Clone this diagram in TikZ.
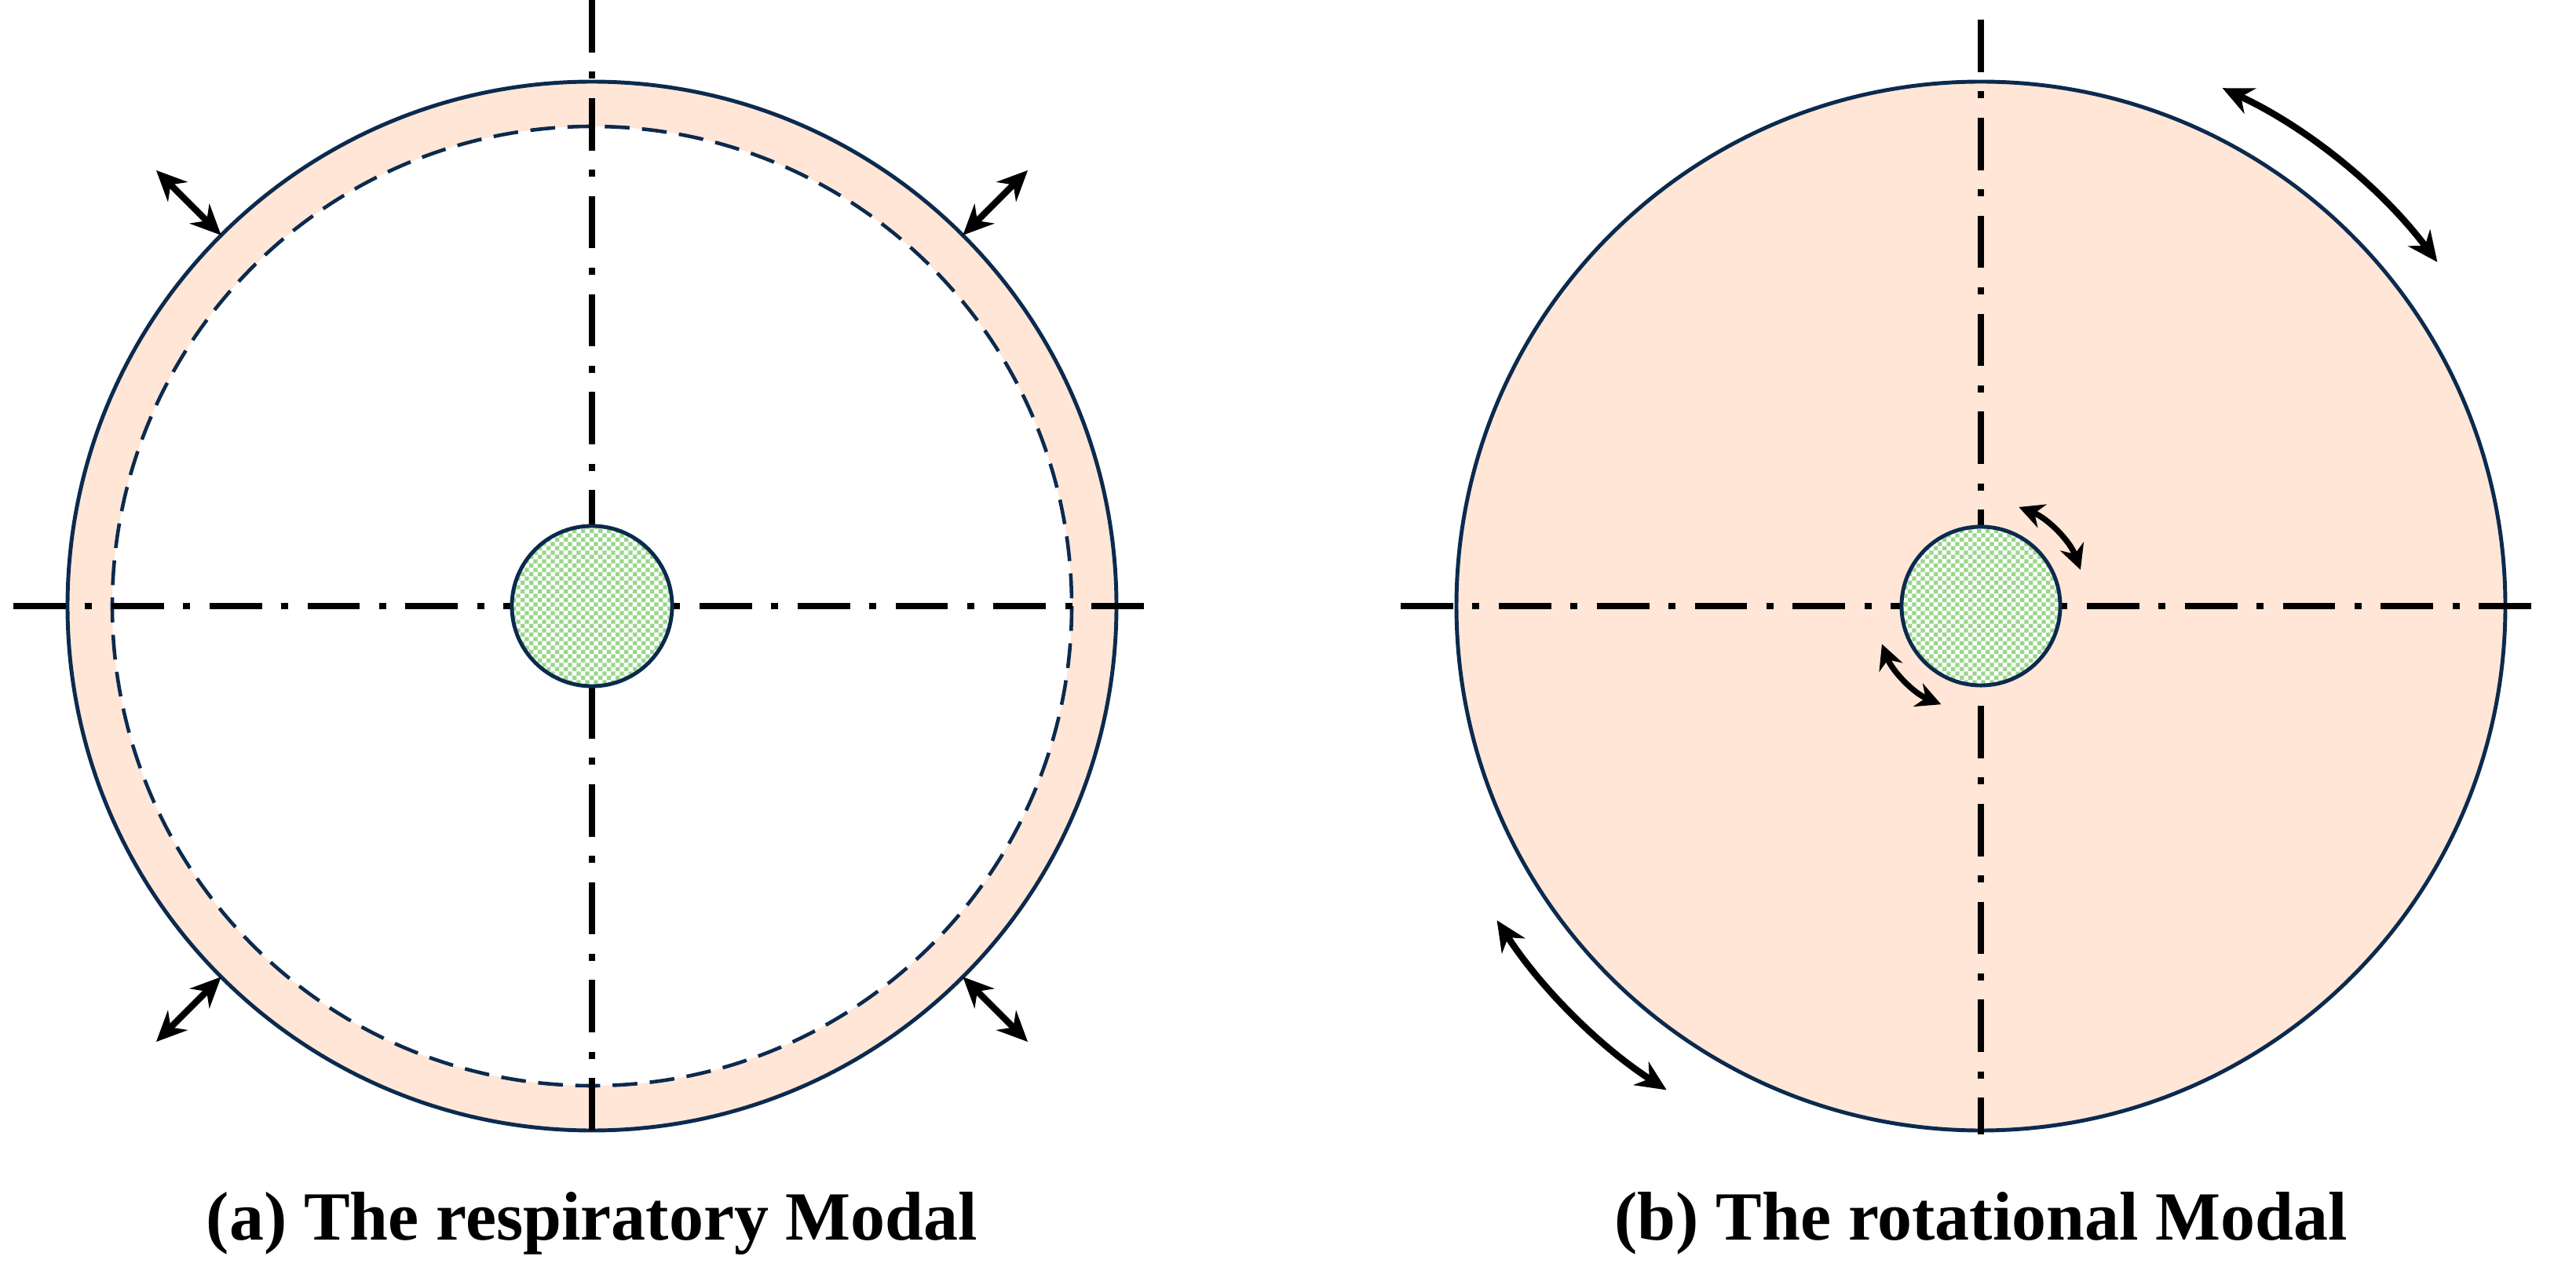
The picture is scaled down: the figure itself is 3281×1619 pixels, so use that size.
\documentclass[tikz,border=0pt]{standalone}
\usepackage{fontspec}
\setmainfont{Liberation Serif}
\usetikzlibrary{arrows.meta,patterns,calc}
\definecolor{navy}{HTML}{0B2A4E}
\definecolor{peach}{HTML}{FFE6D7}
\definecolor{chk}{HTML}{99D68A}
\pgfdeclarepatternformonly{mychecker}{\pgfqpoint{0pt}{0pt}}{\pgfqpoint{3.2pt}{3.2pt}}{\pgfqpoint{3.2pt}{3.2pt}}{%
  \pgfpathrectangle{\pgfqpoint{0pt}{0pt}}{\pgfqpoint{1.6pt}{1.6pt}}%
  \pgfpathrectangle{\pgfqpoint{1.6pt}{1.6pt}}{\pgfqpoint{1.6pt}{1.6pt}}%
  \pgfusepath{fill}}
\tikzset{
  axis/.style={line width=2.5pt,dash pattern=on 19pt off 7pt on 2.5pt off 7pt},
  big/.style={draw=navy,line width=1.4pt},
  core/.style={draw=navy,line width=1.4pt,preaction={fill=white},pattern=mychecker,pattern color=chk},
  dbl/.style={line width=2.4pt,{Stealth[length=11pt,width=10pt]}-{Stealth[length=11pt,width=10pt]}},
  sdbl/.style={line width=2.1pt,{Stealth[length=9pt,width=9pt]}-{Stealth[length=9pt,width=9pt]}},
  captxt/.style={font=\bfseries\fontsize{25}{30}\selectfont}
}
\begin{document}
\begin{tikzpicture}[x=0.01cm,y=-0.01cm]
\useasboundingbox (0,0) rectangle (3281,1619);
% (a)
\coordinate (ca) at (754,772);
\fill[peach] (ca) circle[radius=668];
\fill[white] (ca) circle[radius=611];
\draw[big] (ca) circle[radius=668];
\draw[navy,line width=1.3pt,dash pattern=on 9pt off 4.5pt] (ca) circle[radius=611];
\coordinate (aL) at (17,772); \coordinate (aR) at (1480,772);
\coordinate (aT) at (754,0); \coordinate (aB) at (754,1445);
\draw[axis] (aL) -- (aR);
\draw[axis] (aT) -- (aB);
\node[core,circle,minimum size=2.04cm,inner sep=0pt] (coreA) at (ca) {};
\foreach \a in {45,135,225,315}{
  \draw[dbl] ($(ca)+(\a:668)$) -- ($(ca)+(\a:785)$);
}
\node[captxt] (capA) at (754,1558) {(a) The respiratory Modal};
% (b)
\coordinate (cb) at (2523,772);
\draw[big,fill=peach] (cb) circle[radius=668];
\coordinate (bL) at (1784,772); \coordinate (bR) at (3241,772);
\coordinate (bT) at (2523,25); \coordinate (bB) at (2523,1445);
\draw[axis] (bL) -- (bR);
\draw[axis] (bT) -- (bB);
\node[core,circle,minimum size=2.02cm,inner sep=0pt] (coreB) at (cb) {};
\draw[dbl] (cb) ++(-65:728) arc[start angle=-65,end angle=-37,radius=728];
\draw[dbl] (cb) ++(147:735) arc[start angle=147,end angle=123,radius=735];
\draw[sdbl] (cb) ++(-69:135) arc[start angle=-69,end angle=-20,radius=135];
\draw[sdbl] (cb) ++(159:135) arc[start angle=159,end angle=112,radius=135];
\node[captxt] (capB) at (2523,1558) {(b) The rotational Modal};
\end{tikzpicture}
\end{document}
